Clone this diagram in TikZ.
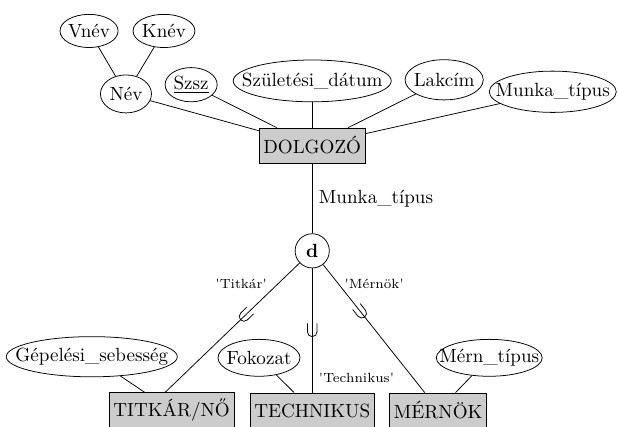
\documentclass[tikz,border=0pt]{standalone}
\usepackage{tikz}
\usetikzlibrary{shapes, decorations.markings}

\begin{document}
\begin{tikzpicture}[
    attr/.style={draw, ellipse, inner xsep=-12pt, inner ysep=-6pt, minimum height=0.68cm},
    entity/.style={draw, fill=black!20, inner xsep=2.2pt, minimum height=0.645cm},
    subsetmark/.style={postaction={decorate}, decoration={markings, mark=at position #1 with {\draw (-7pt,2.5pt) -- (-2.5pt,2.5pt) arc[start angle=90, end angle=-90, radius=2.5pt] -- (-7pt,-2.5pt);}}}
  ]
    \useasboundingbox (0,0) rectangle (11.40,7.86);

    \node[attr, minimum width=1.07cm, minimum height=0.61cm] (vnev) at (1.64,7.29) {Vnév};
    \node[attr, minimum width=1.14cm, minimum height=0.61cm] (knev) at (3.02,7.29) {Knév};
    \node[attr, minimum width=0.94cm, minimum height=0.70cm] (nev) at (2.32,6.13) {Név};
    \node[attr, minimum width=0.96cm, minimum height=0.63cm] (szsz) at (3.52,6.30) {\underline{Szsz}};
    \node[attr, minimum width=2.91cm, minimum height=0.77cm] (szuletesi) at (5.75,6.37) {Születési\_dátum};
    \node[attr, minimum width=1.44cm, minimum height=0.74cm] (lakcim) at (8.18,6.39) {Lakcím};
    \node[attr, minimum width=2.34cm, minimum height=0.76cm] (munkatipus) at (10.18,6.17) {Munka\_típus};
    \node[entity] (dolgozo) at (5.75,5.18) {DOLGOZÓ};
    \node[draw, circle, minimum size=0.63cm, inner sep=0pt] (d) at (5.75,3.24) {\textbf{d}};
    \node[attr, minimum width=3.15cm, minimum height=0.74cm] (gepelesi) at (1.69,1.29) {Gépelési\_sebesség};
    \node[attr, minimum width=1.51cm] (fokozat) at (4.77,1.27) {Fokozat};
    \node[attr, minimum width=1.95cm] (merntipus) at (9.01,1.27) {Mérn\_típus};
    \node[entity] (titkar) at (3.16,0.30) {TITKÁR/NŐ};
    \node[entity] (technikus) at (5.75,0.30) {TECHNIKUS};
    \node[entity] (mernok) at (8.07,0.30) {MÉRNÖK};

    \draw (vnev) -- (nev);
    \draw (knev) -- (nev);
    \draw (nev) -- (dolgozo);
    \draw (szsz) -- (dolgozo);
    \draw (szuletesi) -- (dolgozo);
    \draw (lakcim) -- (dolgozo);
    \draw (munkatipus) -- (dolgozo);
    \draw (dolgozo) -- node[right] {Munka\_típus} (d);

    \draw[subsetmark=0.44] (d) -- node[pos=0.25, above left, xshift=4pt, font=\scriptsize] {\textquotesingle Titkár\textquotesingle} (titkar.110);
    \draw[subsetmark=0.55] (d) -- node[pos=0.88, right, font=\scriptsize] {\textquotesingle Technikus\textquotesingle} (technikus);
    \draw[subsetmark=0.41] (d) -- node[pos=0.24, above right, xshift=-5pt, font=\scriptsize] {\textquotesingle Mérnök\textquotesingle} (mernok.127);

    \draw (gepelesi) -- (titkar);
    \draw (fokozat) -- (technikus);
    \draw (merntipus) -- (mernok);
\end{tikzpicture}
\end{document}
